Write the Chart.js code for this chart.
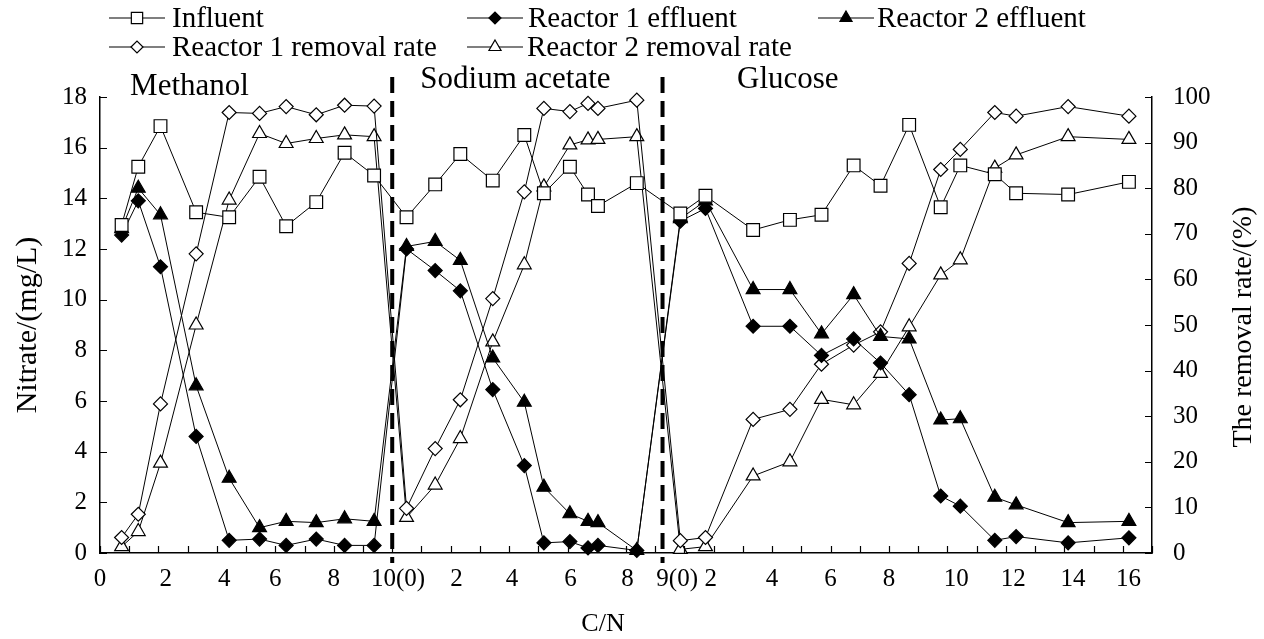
<!DOCTYPE html>
<html>
<head>
<meta charset="utf-8">
<script src="https://cdn.jsdelivr.net/npm/chart.js@4/dist/chart.umd.min.js"></script>
<style>
  html, body { margin: 0; padding: 0; background: #fff; }
  canvas { display: block; }
</style>
</head>
<body>
<canvas id="nitrateChart" width="1264" height="639"></canvas>
<script>
// C/N position of each sample on the joined axis (methanol 0-10, acetate 10-19, glucose 19-36)
const cnPos = [0.74, 1.31, 2.07, 3.29, 4.42, 5.46, 6.37, 7.40, 8.37, 9.38,
    10.49, 11.47, 12.33, 13.44, 14.52, 15.19, 16.08, 16.70, 17.04, 18.37,
    19.86, 20.72, 22.35, 23.61, 24.69, 25.79, 26.71, 27.69, 28.77, 29.44, 30.62, 31.35, 33.13, 35.21]

// nitrate, mg/L
const influent = [12.95, 15.25, 16.85, 13.45, 13.25, 14.85, 12.9, 13.85, 15.8, 14.9,
    13.25, 14.55, 15.75, 14.7, 16.5, 14.2, 15.25, 14.15, 13.7, 14.6,
    13.4, 14.1, 12.75, 13.15, 13.35, 15.3, 14.5, 16.9, 13.65, 15.3, 14.95, 14.2, 14.15, 14.65]
const r1Effluent = [12.55, 13.9, 11.3, 4.6, 0.5, 0.55, 0.3, 0.55, 0.3, 0.3,
    12.0, 11.15, 10.35, 6.45, 3.45, 0.4, 0.45, 0.2, 0.3, 0.1,
    13.1, 13.6, 8.95, 8.95, 7.8, 8.45, 7.5, 6.25, 2.25, 1.85, 0.5, 0.65, 0.4, 0.6]
const r2Effluent = [12.8, 14.4, 13.35, 6.6, 2.95, 1.0, 1.25, 1.2, 1.35, 1.25,
    12.1, 12.3, 11.55, 7.7, 5.95, 2.6, 1.55, 1.25, 1.2, 0.1,
    13.2, 13.9, 10.4, 10.4, 8.65, 10.2, 8.55, 8.45, 5.25, 5.3, 2.2, 1.9, 1.2, 1.25]

// removal rate, %
const r1Removal = [3.4, 8.5, 32.7, 65.6, 96.6, 96.4, 97.9, 96.1, 98.2, 98.0,
    9.8, 22.9, 33.6, 55.8, 79.2, 97.5, 96.8, 98.6, 97.5, 99.3,
    2.7, 3.4, 29.3, 31.5, 41.4, 45.6, 48.5, 63.5, 84.1, 88.5, 96.6, 95.8, 97.9, 95.8]
const r2Removal = [1.4, 4.7, 19.7, 50.0, 77.4, 92.0, 89.8, 90.9, 91.7, 91.3,
    7.8, 14.9, 25.1, 46.3, 63.2, 80.3, 89.5, 90.6, 90.7, 91.3,
    0.8, 1.4, 16.9, 20.0, 33.7, 32.5, 39.4, 49.6, 61.0, 64.3, 84.4, 87.3, 91.3, 90.7]

// x tick labels and where they sit on the joined axis
const xTickLabels = ['0', '2', '4', '6', '8', '10(0)', '2', '4', '6', '8', '9(0)', '2', '4', '6', '8', '10', '12', '14', '16']
const xTickPos = [0, 2.25, 4.25, 6, 8, 10.2, 12.2, 14.1, 16.1, 18.05, 19.75, 20.9, 23, 25, 27, 29.3, 31.25, 33.3, 35.2]

// carbon source sections
const sectionNames = ['Methanol', 'Sodium acetate', 'Glucose']
const sectionStart = [1.03, 10.96, 21.8]
const dividerAt = [10.0, 19.25]

const SERIF = '"Liberation Serif", "Times New Roman", serif'
Chart.defaults.font.family = SERIF
Chart.defaults.color = '#000'

const toPoints = values => values.map((v, i) => ({ x: cnPos[i], y: v }))

function series(label, values, axis, style, radius, fill) {
    return {
        label: label,
        data: toPoints(values),
        yAxisID: axis,
        borderColor: '#000',
        borderWidth: 1,
        tension: 0,
        fill: false,
        clip: false,
        pointStyle: style,
        pointRadius: radius,
        pointHoverRadius: radius,
        pointBackgroundColor: fill,
        pointBorderColor: '#000',
        pointBorderWidth: 1.2,
    }
}

// inward tick marks on all three axes
const inwardTicks = {
    id: 'inwardTicks',
    afterDraw(chart) {
        const { ctx, chartArea, scales } = chart
        ctx.save()
        ctx.strokeStyle = '#000'
        ctx.lineWidth = 1.2
        ctx.beginPath()
        for (let i = 0; i <= 36; i++) {
            const px = Math.round(scales.x.getPixelForValue(i)) + 0.5
            ctx.moveTo(px, chartArea.bottom)
            ctx.lineTo(px, chartArea.bottom - 7)
        }
        scales.y.ticks.forEach(t => {
            const py = Math.round(scales.y.getPixelForValue(t.value)) + 0.5
            ctx.moveTo(chartArea.left, py)
            ctx.lineTo(chartArea.left + 7, py)
        })
        scales.y1.ticks.forEach(t => {
            const py = Math.round(scales.y1.getPixelForValue(t.value)) + 0.5
            ctx.moveTo(chartArea.right, py)
            ctx.lineTo(chartArea.right - 7, py)
        })
        ctx.stroke()
        ctx.restore()
    },
}

// dashed separators between carbon sources, their names, and the x / right axis titles
const sections = {
    id: 'sections',
    afterDatasetsDraw(chart) {
        const { ctx, chartArea, scales } = chart
        ctx.save()
        ctx.strokeStyle = '#000'
        ctx.lineWidth = 4
        ctx.setLineDash([16, 8])
        dividerAt.forEach(v => {
            const px = scales.x.getPixelForValue(v)
            ctx.beginPath()
            ctx.moveTo(px, chartArea.top - 20)
            ctx.lineTo(px, chartArea.bottom + 10)
            ctx.stroke()
        })
        ctx.setLineDash([])
        ctx.fillStyle = '#000'
        ctx.font = '31px ' + SERIF
        ctx.textBaseline = 'middle'
        ctx.textAlign = 'left'
        sectionNames.forEach((name, i) => {
            ctx.fillText(name, scales.x.getPixelForValue(sectionStart[i]), i === 0 ? 87 : 80)
        })

        ctx.textAlign = 'center'
        ctx.font = '26px ' + SERIF
        ctx.fillText('C/N', 603, 624)

        ctx.translate(chart.width - 20, (chartArea.top + chartArea.bottom) / 2 + 2)
        ctx.rotate(-Math.PI / 2)
        ctx.font = '28px ' + SERIF
        ctx.fillText('The removal rate/(%)', 0, 0)
        ctx.restore()
    },
}

// two-row legend laid out like the original figure
const topLegend = {
    id: 'topLegend',
    afterDraw(chart) {
        const { ctx } = chart
        const slots = [
            { ds: 0, mx: 137, tx: 172, y: 18 },
            { ds: 1, mx: 495, tx: 528, y: 18 },
            { ds: 2, mx: 846, tx: 877, y: 18 },
            { ds: 3, mx: 137, tx: 172, y: 47 },
            { ds: 4, mx: 495, tx: 527, y: 47 },
        ]
        ctx.save()
        ctx.font = '29px ' + SERIF
        ctx.textBaseline = 'middle'
        slots.forEach(s => {
            const d = chart.data.datasets[s.ds]
            ctx.strokeStyle = '#000'
            ctx.lineWidth = 1.2
            ctx.beginPath()
            ctx.moveTo(s.mx - 28, s.y)
            ctx.lineTo(s.mx + 28, s.y)
            ctx.stroke()
            ctx.fillStyle = d.pointBackgroundColor
            Chart.helpers.drawPoint(ctx, {
                pointStyle: d.pointStyle,
                radius: d.pointRadius - 1,
                rotation: 0,
                borderWidth: 1.2,
            }, s.mx, s.y)
            ctx.fillStyle = '#000'
            ctx.fillText(d.label, s.tx, s.y + 1)
        })
        ctx.restore()
    },
}

new Chart(document.getElementById('nitrateChart').getContext('2d'), {
    type: 'line',
    data: {
        datasets: [
            series('Influent', influent, 'y', 'rect', 9, '#fff'),
            series('Reactor 1 effluent', r1Effluent, 'y', 'rectRot', 7, '#000'),
            series('Reactor 2 effluent', r2Effluent, 'y', 'triangle', 8, '#000'),
            series('Reactor 1 removal rate', r1Removal, 'y1', 'rectRot', 7, '#fff'),
            series('Reactor 2 removal rate', r2Removal, 'y1', 'triangle', 8, '#fff'),
        ],
    },
    options: {
        responsive: false,
        animation: false,
        layout: { padding: { top: 97, left: 0, right: 0, bottom: 0 } },
        plugins: {
            legend: { display: false },
            tooltip: { enabled: false },
        },
        scales: {
            x: {
                type: 'linear',
                min: 0,
                max: 36,
                afterBuildTicks: scale => {
                    scale.ticks = xTickPos.map(v => ({ value: v }))
                },
                afterFit: scale => { scale.height = 86 },
                ticks: {
                    autoSkip: false,
                    maxRotation: 0,
                    padding: 11,
                    font: { size: 25 },
                    callback: (value, index) => xTickLabels[index],
                },
                grid: { drawOnChartArea: false, drawTicks: false },
                border: { color: '#000', width: 1.5 },
            },
            y: {
                position: 'left',
                min: 0,
                max: 18,
                afterFit: scale => { scale.width = 100 },
                ticks: { stepSize: 2, padding: 13, font: { size: 25 } },
                grid: { drawOnChartArea: false, drawTicks: false },
                border: { color: '#000', width: 1.5 },
                title: {
                    display: true,
                    text: 'Nitrate/(mg/L)',
                    font: { size: 30 },
                    padding: { top: 10, bottom: 0 },
                },
            },
            y1: {
                position: 'right',
                min: 0,
                max: 100,
                afterFit: scale => { scale.width = 112 },
                ticks: { stepSize: 10, padding: 21, font: { size: 25 } },
                grid: { drawOnChartArea: false, drawTicks: false },
                border: { color: '#000', width: 1.5 },
            },
        },
    },
    plugins: [inwardTicks, sections, topLegend],
})
</script>
</body>
</html>
